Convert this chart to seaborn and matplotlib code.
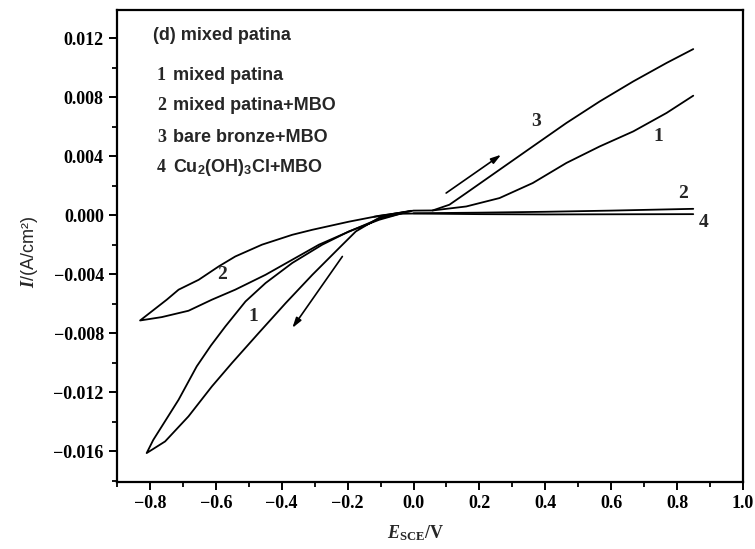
import numpy as np
import pandas as pd
import matplotlib
matplotlib.use("Agg")
import matplotlib.pyplot as plt
import seaborn as sns
from matplotlib.ticker import MultipleLocator, FuncFormatter

# ---------------- data ----------------
# curve 1: mixed patina, cathodic loop (down along right branch, back along left branch)
c1_cat_E = [-0.007, -0.059, -0.104, -0.175, -0.226, -0.307, -0.388, -0.470, -0.551, -0.612, -0.683, -0.754, -0.810,
            -0.790, -0.764, -0.713, -0.658, -0.615, -0.571, -0.510, -0.449, -0.368, -0.277, -0.196, -0.104, -0.028]
c1_cat_I = [0.00029, 0.00009, -0.00018, -0.00111, -0.00224, -0.00405, -0.00597, -0.00800, -0.01003, -0.01162, -0.01365, -0.01535, -0.01614,
            -0.01525, -0.01433, -0.01252, -0.01026, -0.00885, -0.00755, -0.00586, -0.00461, -0.00325, -0.00201, -0.00111, -0.00032, 0.00016]
# curve 1: anodic branch
c1_an_E = [0.058, 0.160, 0.261, 0.362, 0.464, 0.565, 0.667, 0.768, 0.849]
c1_an_I = [0.00031, 0.00058, 0.00115, 0.00217, 0.00353, 0.00465, 0.00567, 0.00692, 0.00809]

# curve 2: mixed patina+MBO, cathodic loop
c2_cat_E = [-0.028, -0.104, -0.206, -0.287, -0.368, -0.449, -0.541, -0.612, -0.683, -0.764, -0.830,
            -0.749, -0.713, -0.652, -0.591, -0.541, -0.460, -0.368, -0.307, -0.196, -0.104, -0.010]
c2_cat_I = [0.00016, -0.00025, -0.00122, -0.00201, -0.00303, -0.00405, -0.00506, -0.00574, -0.00649, -0.00692, -0.00715,
            -0.00574, -0.00506, -0.00439, -0.00348, -0.00281, -0.00201, -0.00134, -0.00100, -0.00045, -0.00005, 0.00025]
# curve 2: anodic branch
c2_an_E = [0.000, 0.200, 0.400, 0.600, 0.849]
c2_an_I = [0.00012, 0.00016, 0.00022, 0.00030, 0.00042]

# curve 3: bare bronze+MBO
c3_E = [-0.100, -0.050, 0.000, 0.058, 0.109, 0.160, 0.261, 0.362, 0.464, 0.565, 0.667, 0.768, 0.849]
c3_I = [-0.00010, 0.00010, 0.00030, 0.00031, 0.00070, 0.00149, 0.00307, 0.00465, 0.00624, 0.00770, 0.00906, 0.01031, 0.01125]

# curve 4: Cu2(OH)3Cl+MBO
c4_E = [-0.120, -0.060, 0.000, 0.200, 0.400, 0.600, 0.849]
c4_I = [-0.00012, 0.00008, 0.00010, 0.00006, 0.00004, 0.00005, 0.00006]

legend_title = "(d) mixed patina"
legend_nums = ["1", "2", "3", "4"]
legend_names = ["mixed patina", "mixed patina+MBO", "bare bronze+MBO",
                r"Cu$_\mathsf{2}$(OH)$_\mathsf{3}$Cl+MBO"]

curve_label_text = ["3", "1", "2", "4", "2", "1"]
curve_label_E = [0.373, 0.743, 0.819, 0.880, -0.581, -0.485]
curve_label_I = [0.00635, 0.00533, 0.00149, -0.00054, -0.00405, -0.00687]

arrow_start_E = [-0.216, 0.099]
arrow_start_I = [-0.00281, 0.00149]
arrow_end_E = [-0.368, 0.266]
arrow_end_I = [-0.00766, 0.00409]

# ---------------- build table ----------------
segments = [("c1_cat", c1_cat_E, c1_cat_I), ("c1_an", c1_an_E, c1_an_I),
            ("c2_cat", c2_cat_E, c2_cat_I), ("c2_an", c2_an_E, c2_an_I),
            ("c3", c3_E, c3_I), ("c4", c4_E, c4_I)]
rows = []
for name, E, I in segments:
    for k, (e, i) in enumerate(zip(E, I)):
        rows.append({"seg": name, "order": k, "E": e, "I": i})
df = pd.DataFrame(rows)

# ---------------- style ----------------
sns.set_style("ticks")
plt.rcParams['font.family'] = ['Liberation Serif', 'DejaVu Serif']
plt.rcParams['mathtext.fontset'] = 'custom'
plt.rcParams['mathtext.rm'] = 'Liberation Serif:bold'
plt.rcParams['mathtext.it'] = 'Liberation Serif:italic:bold'
plt.rcParams['mathtext.sf'] = 'Liberation Sans:bold'
plt.rcParams['mathtext.bf'] = 'Liberation Sans:bold'

W, H = 755, 549
fig = plt.figure(figsize=(W / 100, H / 100), dpi=100)
ax = fig.add_axes([117 / W, 67 / H, 626 / W, 472 / H])

sns.lineplot(data=df, x="E", y="I", units="seg", estimator=None, sort=False,
             color="black", lw=1.3, ax=ax, legend=False)

ax.set_xlim(-0.9, 1.0)
ax.set_ylim(-0.0181, 0.0139)
ax.xaxis.set_major_locator(MultipleLocator(0.2))
ax.xaxis.set_minor_locator(MultipleLocator(0.1))
ax.yaxis.set_major_locator(MultipleLocator(0.004))
ax.yaxis.set_minor_locator(MultipleLocator(0.002))


def fmt(nd):
    def f(v, pos):
        if abs(v) < 1e-9:
            v = 0.0
        return f"{v:.{nd}f}".replace("-", "\u2212")
    return f


ax.xaxis.set_major_formatter(FuncFormatter(fmt(1)))
ax.yaxis.set_major_formatter(FuncFormatter(fmt(3)))
ax.tick_params(which="major", direction="out", length=6, width=1.4, labelsize=13,
               top=False, right=False, colors="black")
ax.tick_params(which="minor", direction="out", length=3.5, width=1.3,
               top=False, right=False, colors="black")
for lab in ax.get_xticklabels() + ax.get_yticklabels():
    lab.set_fontweight("bold")
for s in ax.spines.values():
    s.set_visible(True)
    s.set_linewidth(1.6)
    s.set_color("black")

ax.set_xlabel("")
ax.set_ylabel("")
fig.text(415 / W, 1 - 533 / H, r"$E_{\mathrm{SCE}}$/V", ha="center", va="center", fontsize=13,
         fontweight="bold")
fig.text(30 / W, 1 - 252 / H, r"$I$/(A/cm²)", ha="center", va="center", fontsize=13,
         rotation=90, family=["Liberation Sans", "DejaVu Sans"])

# legend-like text block
fig.text(153 / W, 1 - 35 / H, legend_title, ha="left", va="center", fontsize=13,
         fontweight="bold", family=["Liberation Sans", "DejaVu Sans"])
ys = [75, 105, 137, 168]
for n, name, y in zip(legend_nums, legend_names, ys):
    fig.text(157 / W, 1 - y / H, n, ha="left", va="center", fontsize=13, fontweight="bold")
    fig.text(173 / W, 1 - y / H, name, ha="left", va="center", fontsize=13, fontweight="bold",
             family=["Liberation Sans", "DejaVu Sans"])

for t, e, i in zip(curve_label_text, curve_label_E, curve_label_I):
    ax.text(e, i, t, ha="center", va="center", fontsize=14, fontweight="bold")

for xs, ys_, xe, ye in zip(arrow_start_E, arrow_start_I, arrow_end_E, arrow_end_I):
    ax.annotate("", xy=(xe, ye), xytext=(xs, ys_),
                arrowprops=dict(arrowstyle="-|>,head_length=0.6,head_width=0.18",
                                color="black", lw=1.2, shrinkA=0, shrinkB=0))

fig.savefig("out.png", dpi=100)
